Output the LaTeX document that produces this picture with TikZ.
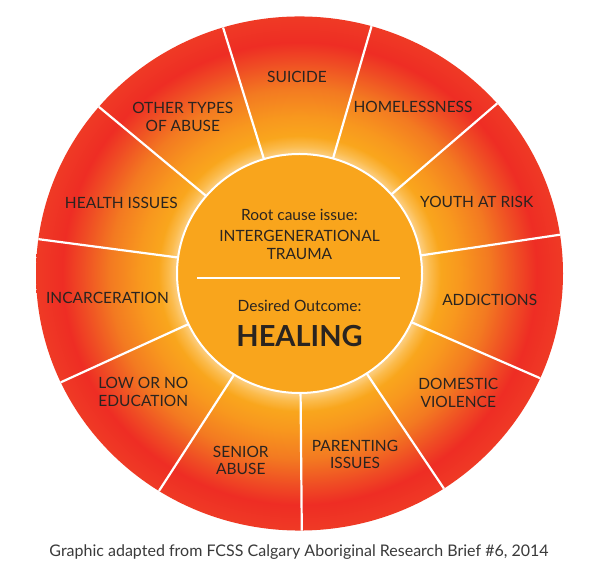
\documentclass[tikz,border=0pt]{standalone}
\usepackage{fontspec}
\setmainfont{Lato}
\definecolor{glowc}{HTML}{FDD38E}
\definecolor{glowb}{HTML}{FBBB4C}
\definecolor{orga}{HTML}{F9A61D}
\definecolor{orgb}{HTML}{F8981E}
\definecolor{orgc}{HTML}{F37A21}
\definecolor{reda}{HTML}{EF4B24}
\definecolor{redb}{HTML}{EE2D24}
\definecolor{redc}{HTML}{EF3A25}
\definecolor{innerfill}{HTML}{F9A51C}
\definecolor{labtext}{HTML}{2A2420}
\definecolor{captext}{HTML}{3A3A3A}
\pgfdeclareradialshading{ringshade}{\pgfpoint{0bp}{0bp}}{color(0bp)=(glowc); color(11.5bp)=(glowc); color(12.4bp)=(glowb); color(13.4bp)=(orga); color(15.2bp)=(orgb); color(18bp)=(orgc); color(20.7bp)=(reda); color(22.5bp)=(redb); color(25bp)=(redc); color(50bp)=(redc)}
\begin{document}
\begin{tikzpicture}[x=1pt,y=1pt,
  lab/.style={text=labtext, font=\fontsize{15.5}{17.7}\selectfont, align=center, inner sep=0pt},
  midtext/.style={text=labtext, font=\fontsize{15.5}{18}\selectfont, align=center, inner sep=0pt},
  divider/.style={white, line width=2.2pt},
  ringborder/.style={white, line width=2pt}]
\useasboundingbox (0,0) rectangle (592,570);
\fill[white] (0,0) rectangle (592,570);
\begin{scope}[shift={(299.5,296.5)}, yscale=0.9755]
  \shade[shading=ringshade] (0,0) circle[radius=263.5];
  \foreach \k in {0,...,10}
    \draw[divider] ({270.5+\k*32.72727}:122.5) -- ({270.5+\k*32.72727}:263.5);
  \draw[ringborder, fill=innerfill] (0,0) circle[radius=122.5];
\end{scope}
% segment labels
\node[lab] (suicide) at (297,493) {SUICIDE};
\node[lab] (homeless) at (413,462.7) {HOMELESSNESS};
\node[lab] (youth) at (476.7,368.3) {YOUTH AT RISK};
\node[lab] (addict) at (489.7,270) {ADDICTIONS};
\node[lab] (domestic) at (458.3,176.8) {DOMESTIC\\VIOLENCE};
\node[lab] (parenting) at (355,115.5) {PARENTING\\ISSUES};
\node[lab] (senior) at (240.8,109.5) {SENIOR\\ABUSE};
\node[lab] (loweduc) at (143.3,178.3) {LOW OR NO\\EDUCATION};
\node[lab] (incarc) at (107.5,271.7) {INCARCERATION};
\node[lab] (health) at (121.3,366.7) {HEALTH ISSUES};
\node[lab] (other) at (182.8,452.8) {OTHER TYPES\\OF ABUSE};
% centre
\node[midtext] (root) at (299.5,355) {Root cause issue:};
\node[midtext] (trauma) at (299.5,325) {INTERGENERATIONAL\\TRAUMA};
\coordinate (sepL) at (197,292);
\coordinate (sepR) at (400,292);
\draw[white, line width=2pt] (sepL) -- (sepR);
\node[midtext] (desired) at (299.5,264) {Desired Outcome:};
\node[text=labtext, font=\fontsize{29}{32}\bfseries, inner sep=0pt] (healing) at (299.5,234) {HEALING};
\node[text=captext, font=\fontsize{16}{19}\selectfont, inner sep=0pt] (caption) at (299,18) {Graphic adapted from FCSS Calgary Aboriginal Research Brief \#6, 2014};
\end{tikzpicture}
\end{document}
